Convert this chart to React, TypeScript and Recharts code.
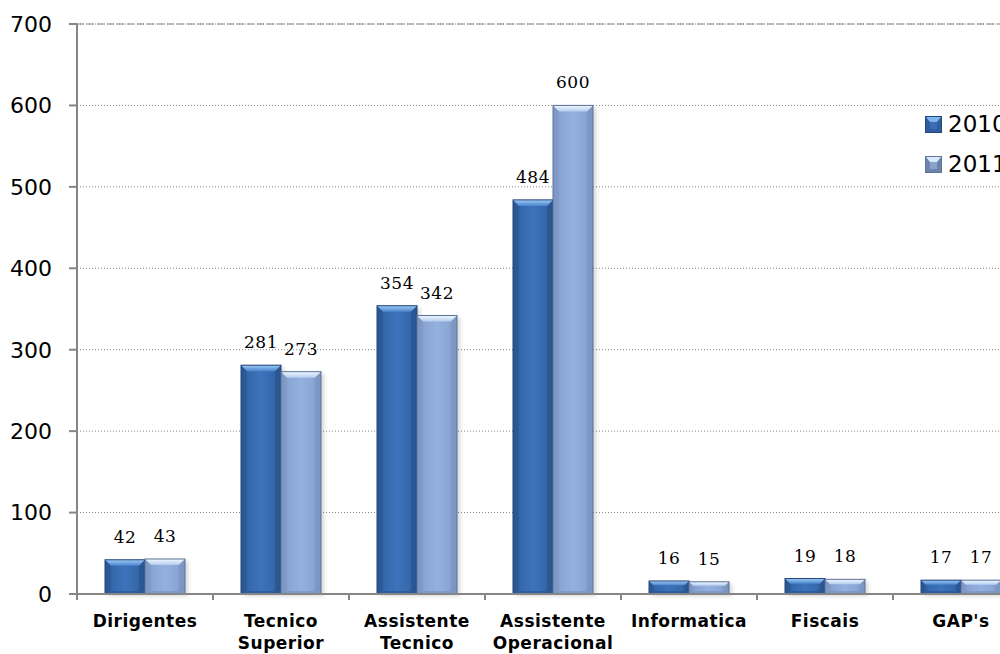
import React from 'react';
import {
  BarChart,
  Bar,
  XAxis,
  YAxis,
  CartesianGrid,
  LabelList,
  ReferenceLine,
} from 'recharts';

// Staff counts per career group, 2010 vs 2011
const categories = [
  'Dirigentes',
  'Tecnico Superior',
  'Assistente Tecnico',
  'Assistente Operacional',
  'Informatica',
  'Fiscais',
  "GAP's",
];
const values2010 = [42, 281, 354, 484, 16, 19, 17];
const values2011 = [43, 273, 342, 600, 15, 18, 17];
const yTicks = [0, 100, 200, 300, 400, 500, 600, 700];
const seriesNames = ['2010', '2011'];

const data = categories.map((name, i) => ({
  name,
  y2010: values2010[i],
  y2011: values2011[i],
}));

type Palette = { body: string; top: string; edge: string; bottom: string; side: string };
const PALETTE: Record<string, Palette> = {
  y2010: { body: 'body2010', top: 'top2010', edge: '#22467a', bottom: '#2c5998', side: '#2b5591' },
  y2011: { body: 'body2011', top: 'top2011', edge: '#5d7399', bottom: '#7d96c2', side: '#7f98c4' },
};

const AXIS = '#868686';

function BevelBar(props: any) {
  const { x, y, width, height, dataKey } = props;
  if (!height || height <= 0) return null;
  const pal = PALETTE[dataKey] || PALETTE.y2010;
  const b = Math.max(1.5, Math.min(6, height / 3, width / 5));
  const bb = Math.min(3, b);
  const h = height;
  const w = width;
  return (
    <g>
      <rect x={x + 3} y={y + 2} width={w} height={h} fill="#000" opacity={0.16} filter="url(#barShadow)" />
      <rect x={x} y={y} width={w} height={h} fill={`url(#${pal.body})`} />
      {/* side bevels */}
      <polygon points={`${x},${y} ${x + b},${y + b} ${x + b},${y + h - bb} ${x},${y + h}`} fill={pal.side} opacity={0.6} />
      <polygon points={`${x + w},${y} ${x + w - b},${y + b} ${x + w - b},${y + h - bb} ${x + w},${y + h}`} fill={pal.side} opacity={0.75} />
      {/* bottom bevel */}
      <polygon points={`${x},${y + h} ${x + b},${y + h - bb} ${x + w - b},${y + h - bb} ${x + w},${y + h}`} fill={pal.bottom} opacity={0.8} />
      {/* top bevel highlight */}
      <polygon points={`${x},${y} ${x + w},${y} ${x + w - b},${y + b} ${x + b},${y + b}`} fill={`url(#${pal.top})`} />
      <rect x={x} y={y} width={w} height={h} fill="none" stroke={pal.edge} strokeWidth={1} />
    </g>
  );
}

function CategoryTick(props: any) {
  const { x, y, payload, index, visibleTicksCount } = props;
  const half = payload && typeof payload.offset === 'number' && payload.offset > 0 ? payload.offset : 68;
  const lines = String(payload.value).split(' ');
  const last = index === (visibleTicksCount ?? categories.length) - 1;
  return (
    <g>
      <line x1={x - half} x2={x - half} y1={y} y2={y + 6} stroke={AXIS} strokeWidth={2} />
      {last && <line x1={x + half} x2={x + half} y1={y} y2={y + 6} stroke={AXIS} strokeWidth={2} />}
      <text
        x={x}
        y={y + 33}
        textAnchor="middle"
        fontFamily="'DejaVu Sans', sans-serif"
        fontWeight="bold"
        fontSize={17}
        letterSpacing={0.5}
        fill="#000"
      >
        {lines.map((l, i) => (
          <tspan key={i} x={x} dy={i === 0 ? 0 : 22}>
            {l}
          </tspan>
        ))}
      </text>
    </g>
  );
}

function LegendSwatch({ id }: { id: string }) {
  const pal = PALETTE[id];
  return (
    <svg width={17} height={17} style={{ display: 'block' }}>
      <rect x={0.5} y={0.5} width={16} height={16} fill={id === 'y2010' ? '#2f5e9f' : '#6e84ac'} stroke={pal.edge} />
      <polygon points="1,1 16,1 12,6 5,6" fill={id === 'y2010' ? '#7fb4ee' : '#d8eaff'} />
      <rect x={5} y={6} width={7} height={7} fill={id === 'y2010' ? '#3a6db3' : '#8aa2cc'} />
    </svg>
  );
}

function LegendBox() {
  const keys = ['y2010', 'y2011'];
  return (
    <div
      style={{
        position: 'absolute',
        left: 925,
        top: 111,
        display: 'flex',
        flexDirection: 'column',
        gap: 13,
        whiteSpace: 'nowrap',
      }}
    >
      {keys.map((k, i) => (
        <div key={k} style={{ display: 'flex', alignItems: 'center', height: 27 }}>
          <LegendSwatch id={k} />
          <span
            style={{
              marginLeft: 6,
              fontFamily: "'DejaVu Sans', sans-serif",
              fontSize: 23,
              color: '#000',
              lineHeight: '27px',
            }}
          >
            {seriesNames[i]}
          </span>
        </div>
      ))}
    </div>
  );
}

const labelStyle = {
  fontFamily: "'DejaVu Serif', serif",
  fontSize: 17,
  fill: '#000',
  letterSpacing: 0.5,
};

export default function App() {
  return (
    <div
      style={{
        position: 'absolute',
        left: 0,
        top: 0,
        width: 1000,
        height: 654,
        overflow: 'hidden',
        background: '#fff',
      }}
    >
      <BarChart
        width={1040}
        height={654}
        data={data}
        margin={{ top: 24, right: 11, bottom: 0, left: 0 }}
        barGap={0}
        barCategoryGap={28}
      >
        <defs>
          <linearGradient id="body2010" x1="0" y1="0" x2="1" y2="0">
            <stop offset="0%" stopColor="#2a5592" />
            <stop offset="20%" stopColor="#3569ad" />
            <stop offset="50%" stopColor="#3c73bb" />
            <stop offset="80%" stopColor="#3569ad" />
            <stop offset="100%" stopColor="#284f88" />
          </linearGradient>
          <linearGradient id="top2010" x1="0" y1="0" x2="0" y2="1">
            <stop offset="0%" stopColor="#9fcbf7" />
            <stop offset="100%" stopColor="#4a84cc" />
          </linearGradient>
          <linearGradient id="body2011" x1="0" y1="0" x2="1" y2="0">
            <stop offset="0%" stopColor="#7a92bd" />
            <stop offset="20%" stopColor="#8aa6d5" />
            <stop offset="50%" stopColor="#94b0de" />
            <stop offset="80%" stopColor="#8aa6d5" />
            <stop offset="100%" stopColor="#6e85ae" />
          </linearGradient>
          <linearGradient id="top2011" x1="0" y1="0" x2="0" y2="1">
            <stop offset="0%" stopColor="#f2f9ff" />
            <stop offset="100%" stopColor="#b3cbee" />
          </linearGradient>
          <filter id="barShadow" x="-20%" y="-20%" width="140%" height="140%">
            <feGaussianBlur stdDeviation="2" />
          </filter>
        </defs>
        <CartesianGrid vertical={false} stroke={AXIS} strokeDasharray="1 2" />
        <ReferenceLine y={700} stroke={AXIS} strokeDasharray="7 3" />
        <XAxis
          dataKey="name"
          height={60}
          stroke={AXIS}
          strokeWidth={2}
          tickLine={false}
          tickSize={0}
          tickMargin={0}
          interval={0}
          tick={<CategoryTick />}
        />
        <YAxis
          width={77}
          domain={[0, 700]}
          ticks={yTicks}
          interval={0}
          stroke={AXIS}
          strokeWidth={2}
          tickSize={8}
          tickMargin={17}
          tick={{ fill: '#000', fontSize: 22, fontFamily: "'DejaVu Sans', sans-serif" }}
        />
        <Bar dataKey="y2010" name="2010" isAnimationActive={false} shape={<BevelBar />}>
          <LabelList dataKey="y2010" position="top" offset={17} style={labelStyle} />
        </Bar>
        <Bar dataKey="y2011" name="2011" isAnimationActive={false} shape={<BevelBar />}>
          <LabelList dataKey="y2011" position="top" offset={17} style={labelStyle} />
        </Bar>
      </BarChart>
      <LegendBox />
    </div>
  );
}
